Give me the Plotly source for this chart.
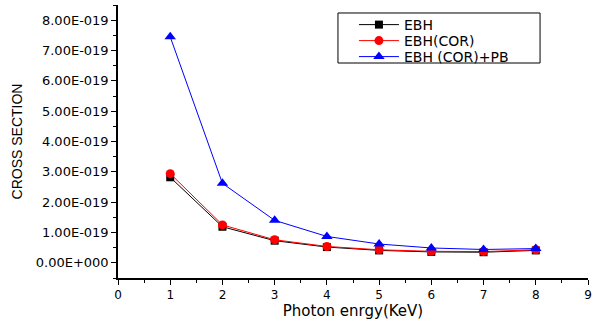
import plotly.graph_objects as go

energy = [1, 2, 3, 4, 5, 6, 7, 8]
ebh = [2.82e-19, 1.19e-19, 0.73e-19, 0.52e-19, 0.41e-19, 0.36e-19, 0.35e-19, 0.41e-19]
ebh_cor = [2.94e-19, 1.25e-19, 0.76e-19, 0.54e-19, 0.43e-19, 0.38e-19, 0.37e-19, 0.43e-19]
ebh_cor_pb = [7.45e-19, 2.62e-19, 1.40e-19, 0.87e-19, 0.62e-19, 0.49e-19, 0.44e-19, 0.47e-19]

ytick_vals = [0, 1e-19, 2e-19, 3e-19, 4e-19, 5e-19, 6e-19, 7e-19, 8e-19]
ytick_text = ["0.00E+000", "1.00E-019", "2.00E-019", "3.00E-019", "4.00E-019",
              "5.00E-019", "6.00E-019", "7.00E-019", "8.00E-019"]

FONT = "DejaVu Sans"

fig = go.Figure()
fig.add_trace(go.Scatter(x=energy, y=ebh, name="EBH", mode="lines+markers",
                         line=dict(color="black", width=1), legend="legend", showlegend=True,
                         marker=dict(symbol="square", size=8, color="black")))
fig.add_trace(go.Scatter(x=energy, y=ebh_cor, name="EBH(COR)", mode="lines+markers",
                         line=dict(color="red", width=1), legend="legend2", showlegend=True,
                         marker=dict(symbol="circle", size=9, color="red")))
fig.add_trace(go.Scatter(x=energy, y=ebh_cor_pb, name="EBH (COR)+PB", mode="lines+markers",
                         line=dict(color="blue", width=1), legend="legend3", showlegend=True,
                         marker=dict(symbol="triangle-up", size=10, color="blue")))

leg_common = dict(x=0.502, xanchor="left", yanchor="middle", borderwidth=0,
                  bgcolor="rgba(0,0,0,0)", font=dict(size=14, family=FONT), itemwidth=40)

fig.update_layout(
    width=597, height=322,
    margin=dict(l=118, r=9, t=5, b=44),
    paper_bgcolor="white", plot_bgcolor="white",
    font=dict(family=FONT, color="black"),
    showlegend=True,
    legend=dict(y=0.9267, **leg_common),
    legend2=dict(y=0.8681, **leg_common),
    legend3=dict(y=0.8095, **leg_common),
    shapes=[dict(type="rect", xref="paper", yref="paper", x0=0.468, x1=0.898,
                 y0=0.7875, y1=0.9707, line=dict(color="black", width=1), layer="above")],
    xaxis=dict(range=[0, 9], dtick=1, tick0=0, showgrid=False, zeroline=False,
               showline=True, linecolor="black", linewidth=1.5,
               ticks="outside", ticklen=5, tickwidth=1, tickcolor="black",
               tickfont=dict(size=12, family=FONT),
               minor=dict(ticks="outside", dtick=0.5, tick0=0, ticklen=3, tickcolor="black", showgrid=False),
               title=dict(text="Photon enrgy(KeV)", font=dict(size=15, family=FONT), standoff=3)),
    yaxis=dict(range=[-0.5e-19, 8.5e-19], tickvals=ytick_vals, ticktext=ytick_text,
               showgrid=False, zeroline=False,
               showline=True, linecolor="black", linewidth=1.5,
               ticks="outside", ticklen=5, tickwidth=1, tickcolor="black",
               tickfont=dict(size=13, family=FONT),
               minor=dict(ticks="outside", dtick=0.5e-19, tick0=0, ticklen=3, tickcolor="black", showgrid=False),
               title=dict(text="CROSS SECTION", font=dict(size=14, family="Liberation Sans"), standoff=10)),
)

fig.write_html("out.html")
